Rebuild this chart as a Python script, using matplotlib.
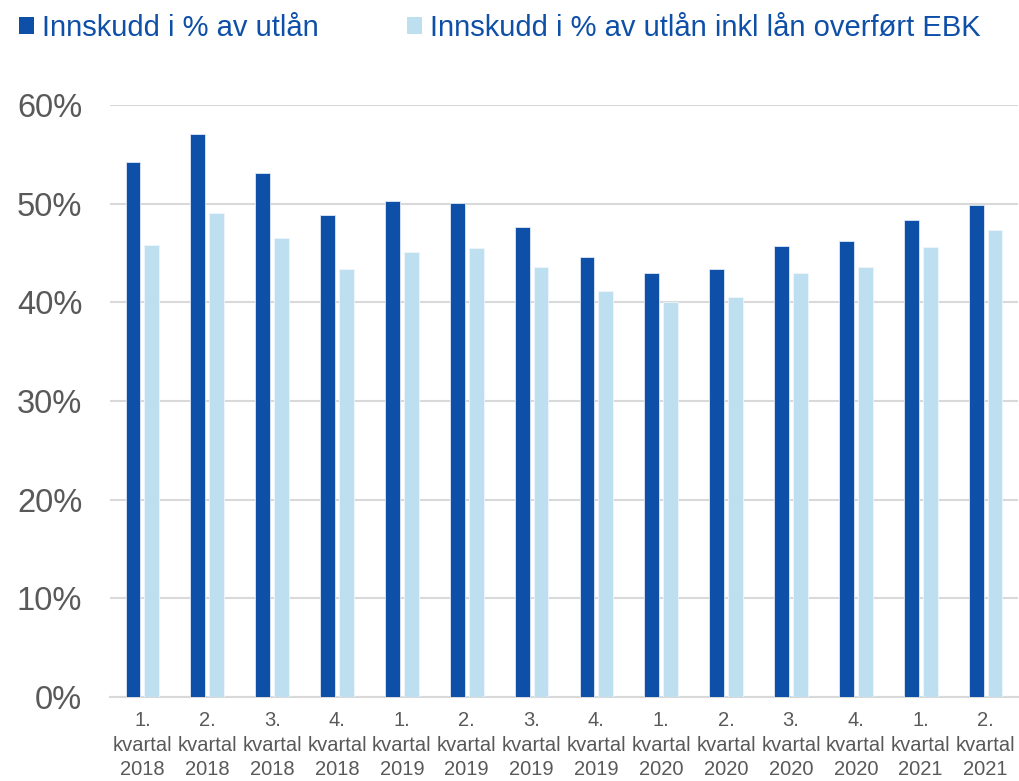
import matplotlib
matplotlib.use("Agg")
import matplotlib.pyplot as plt
import numpy as np
from matplotlib.patches import Patch

categories = ["1.\nkvartal\n2018", "2.\nkvartal\n2018", "3.\nkvartal\n2018", "4.\nkvartal\n2018",
              "1.\nkvartal\n2019", "2.\nkvartal\n2019", "3.\nkvartal\n2019", "4.\nkvartal\n2019",
              "1.\nkvartal\n2020", "2.\nkvartal\n2020", "3.\nkvartal\n2020", "4.\nkvartal\n2020",
              "1.\nkvartal\n2021", "2.\nkvartal\n2021"]
innskudd = [54.2, 57.1, 53.1, 48.9, 50.3, 50.05, 47.6, 44.6, 43.0, 43.4, 45.7, 46.2, 48.3, 49.85]
innskudd_ebk = [45.8, 49.1, 46.5, 43.4, 45.1, 45.5, 43.6, 41.1, 40.0, 40.5, 43.0, 43.6, 45.6, 47.3]
series_names = ["Innskudd i % av utlån", "Innskudd i % av utlån inkl lån overført EBK"]
yticks = [0, 10, 20, 30, 40, 50, 60]

dark = "#0E4FA8"
light = "#BDDFF0"
gray = "#595959"
font = "Liberation Sans"

fig = plt.figure(figsize=(10.2, 7.81), dpi=100)
ax = fig.add_axes([110/1020, 1-697/781, 908/1020, (697-105)/781])

x = np.arange(len(categories))
w = 0.23
ax.bar(x - 0.145, innskudd, w, color=dark, edgecolor="#dfe8f5", linewidth=0.6, zorder=3)
ax.bar(x + 0.145, innskudd_ebk, w, color=light, edgecolor="#eef6fb", linewidth=0.6, zorder=3)

ax.set_ylim(0, 60)
ax.set_xlim(-0.5, len(categories) - 0.5)
ax.set_yticks(yticks)
ax.set_yticklabels([f"{v}%" for v in yticks], fontsize=23.5, color=gray, family=font)
ax.yaxis.grid(True, color="#d9d9d9", linewidth=1.5, zorder=0)
ax.set_axisbelow(True)
ax.tick_params(axis="y", length=0, pad=20)
ax.tick_params(axis="x", length=0, pad=10)
ax.set_xticks(x)
ax.set_xticklabels(categories, fontsize=14.5, color=gray, family=font, linespacing=1.38)
for s in ["top", "right", "left"]:
    ax.spines[s].set_visible(False)
ax.spines["bottom"].set_color("#d9d9d9")
ax.spines["bottom"].set_linewidth(1.5)

handles = [Patch(facecolor=dark), Patch(facecolor=light)]
leg = fig.legend(handles, series_names, loc="upper left", bbox_to_anchor=(19/1020, 1 - 14/781), ncol=2,
                 frameon=False, handlelength=0.51, handleheight=0.51, handletextpad=0.27,
                 columnspacing=3.05, borderpad=0, borderaxespad=0,
                 prop={"family": font, "size": 21})
for t in leg.get_texts():
    t.set_color(dark)

fig.savefig("out.png", dpi=100)
